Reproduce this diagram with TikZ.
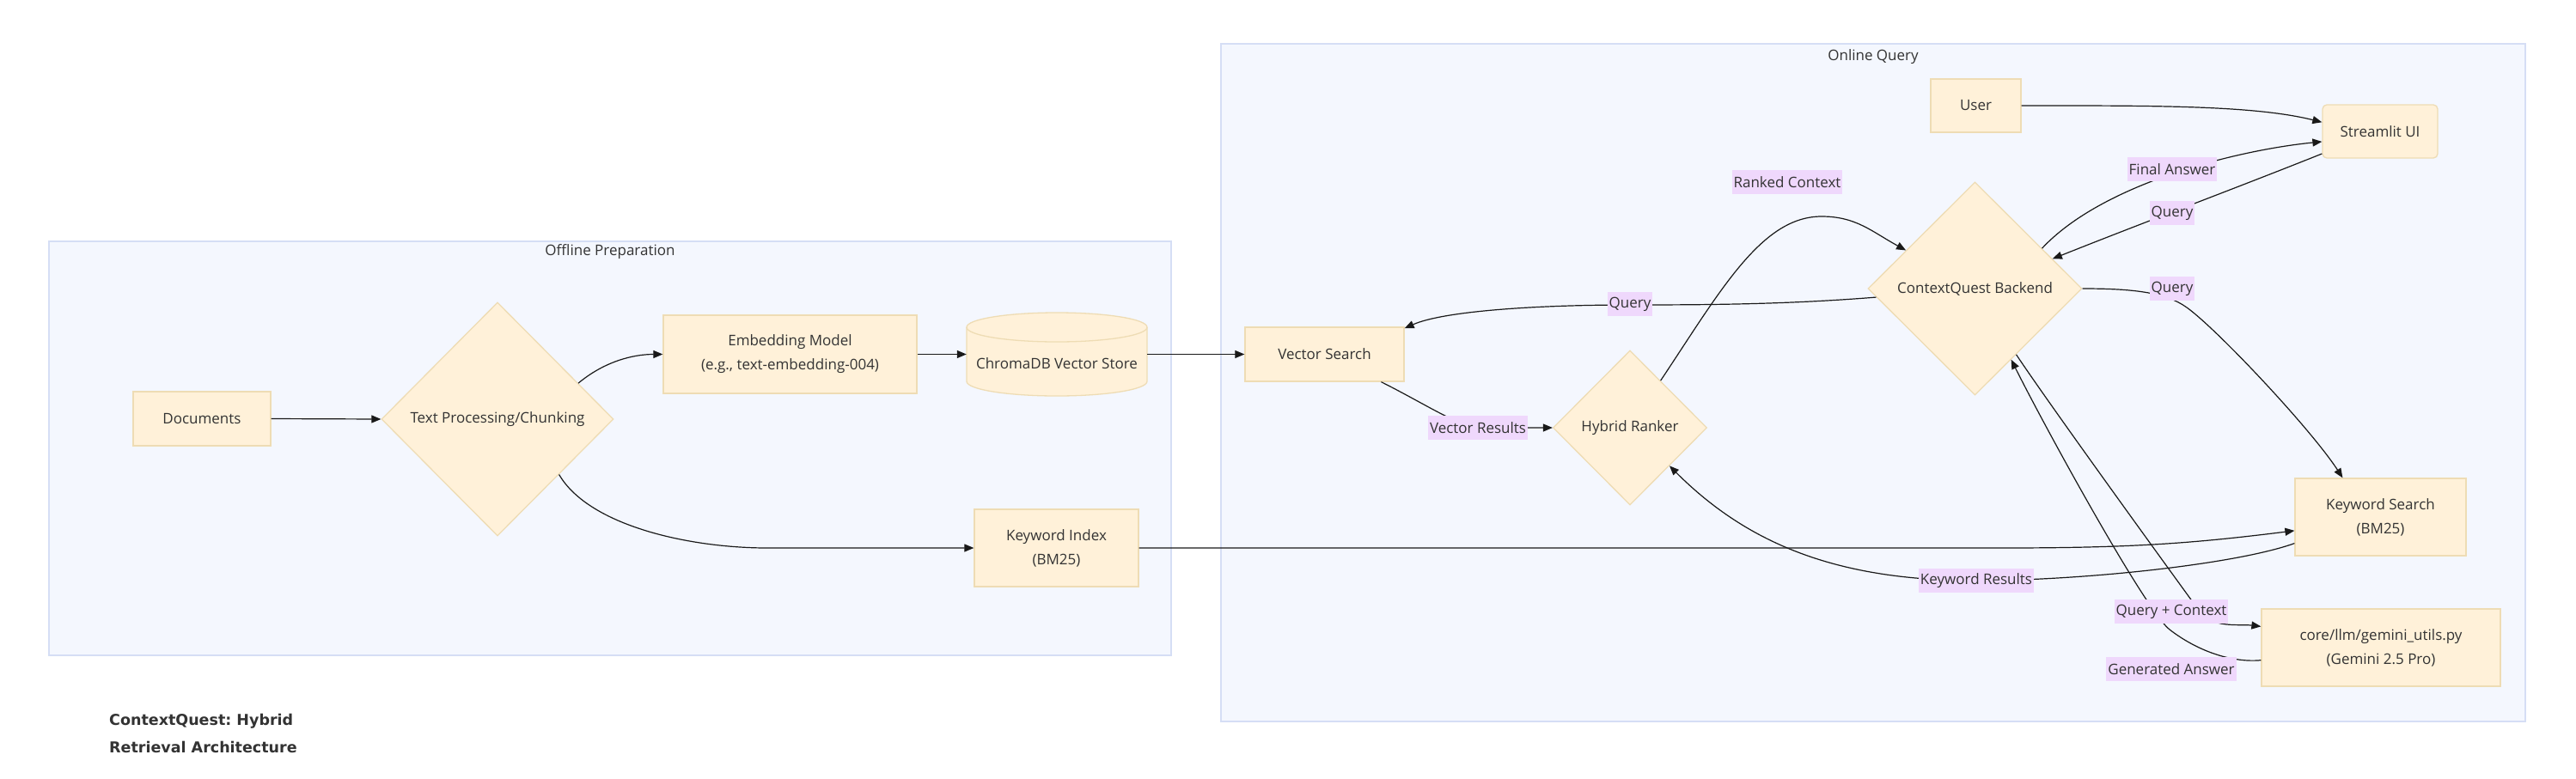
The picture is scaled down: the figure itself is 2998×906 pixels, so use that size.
\documentclass[tikz,border=0pt]{standalone}
\usepackage{fontspec}
\setmainfont{Open Sans}
\newfontfamily\titlefont{DejaVu Sans}
\usetikzlibrary{shapes.geometric,arrows.meta}
\frenchspacing
\definecolor{nodefill}{HTML}{FFF1D9}
\definecolor{nodeline}{HTML}{EEDCB4}
\definecolor{clfill}{HTML}{F4F7FE}
\definecolor{clline}{HTML}{D5DEF5}
\definecolor{lblfill}{HTML}{EFD8FC}
\definecolor{txt}{HTML}{333333}
\begin{document}
\begin{tikzpicture}[x=1pt,y=-1pt,
  nfont/.style={font=\fontsize{17}{28}\selectfont, text=txt},
  cluster/.style={rectangle, draw=clline, fill=clfill, line width=1.5pt, inner sep=0pt},
  cltitle/.style={nfont, inner sep=0pt},
  box/.style={rectangle, draw=nodeline, fill=nodefill, line width=1.3pt, inner sep=0pt, align=center, nfont},
  dia/.style={diamond, draw=nodeline, fill=nodefill, line width=1.3pt, inner sep=0pt, align=center, nfont},
  lbl/.style={fill=lblfill, inner xsep=2pt, inner ysep=0pt, minimum height=28pt, nfont},
  conn/.style={draw=black!90, line width=1.2pt, -{Triangle[length=11pt,width=9pt]}}
]
\fill[white] (0,0) rectangle (2998,906);
\useasboundingbox (0,0) rectangle (2998,906);

% clusters
\node[cluster, minimum width=1306pt, minimum height=482pt] (off) at (710,522) {};
\node[cluster, minimum width=1518pt, minimum height=789pt] (onl) at (2180,445.5) {};
\node[cltitle] (offt) at (710,293) {Offline Preparation};
\node[cltitle] (onlt) at (2180,66) {Online Query};

% cylinder body (ChromaDB)
\filldraw[fill=nodefill, draw=nodeline, line width=1.3pt]
  (1125,381) -- (1125,444) arc[start angle=180, end angle=0, x radius=105, y radius=17]
  -- (1335,381) arc[start angle=0, end angle=-180, x radius=105, y radius=17] -- cycle;
\draw[draw=nodeline, line width=1.3pt] (1125,381) arc[start angle=180, end angle=0, x radius=105, y radius=17];

% nodes
\node[box, minimum width=160pt, minimum height=63pt] (docs) at (235,487.5) {Documents};
\node[dia, minimum width=270pt, minimum height=272pt] (tp) at (579,488) {Text Processing/Chunking};
\node[box, minimum width=295pt, minimum height=91pt] (emb) at (919.5,412.5) {Embedding Model\\(e.g., text-embedding-004)};
\node[nfont, inner sep=0pt, minimum width=210pt, minimum height=97pt] (ch) at (1230,412.5) {\raisebox{-17pt}[0pt][0pt]{ChromaDB Vector Store}};
\node[box, minimum width=191pt, minimum height=90pt] (kwi) at (1229.5,638) {Keyword Index\\(BM25)};

\node[box, minimum width=185pt, minimum height=63pt] (vs) at (1541.5,412.5) {Vector Search};
\node[dia, minimum width=179pt, minimum height=180pt] (hr) at (1897,498) {Hybrid Ranker};
\node[box, minimum width=105pt, minimum height=62pt] (user) at (2299.5,123) {User};
\node[box, rounded corners=5pt, minimum width=134pt, minimum height=62pt] (st) at (2770,153) {Streamlit UI};
\node[dia, minimum width=249pt, minimum height=248pt] (be) at (2298.5,336) {ContextQuest Backend};
\node[box, minimum width=199pt, minimum height=90pt] (ks) at (2770.5,602) {Keyword Search\\(BM25)};
\node[box, minimum width=278pt, minimum height=90pt] (gem) at (2771,754) {core/llm/gemini\_utils.py\\(Gemini 2.5 Pro)};

% helper coordinates
\coordinate (k1) at (893,638);
\coordinate (k2) at (2330,638);
\coordinate (q3) at (1897,355);
\coordinate (q2a) at (2545,358);
\coordinate (vr) at (1720,498);
\coordinate (rc) at (2120,252);
\coordinate (kr) at (2300,676);
\coordinate (qc) at (2560,712);
\coordinate (ga) at (2525,733);

% connectors
\draw[conn] (docs.east) -- (tp.west);
\draw[conn] (tp.24) .. controls +(30,-25) and +(-35,0) .. (emb.west);
\draw[conn] (emb.east) -- (ch.west);
\draw[conn] (ch.east) -- (vs.west);
\draw[conn] (tp.-42) .. controls +(35,60) and +(-90,0) .. (k1) -- (kwi.west);
\draw[conn] (kwi.east) -- (k2) .. controls +(150,0) and +(-120,15) .. (ks.189);
\draw[conn] (user.east) .. controls +(150,0) and +(-80,-20) .. (st.171);
\draw[conn] (st.201) .. controls +(-100,40) and +(100,-40) .. (be.21);
\draw[conn] (be.31) .. controls +(70,-75) and +(-100,10) .. (st.190);
\draw[conn] (be.185) .. controls +(-100,8) and +(100,0) .. (q3) .. controls +(-110,0) and +(45,-20) .. (vs.18);
\draw[conn] (be.east) .. controls +(57,0) and +(-25,-18) .. (q2a) .. controls +(35,25) and +(-37,-57) .. (ks.134);
\draw[conn] (vs.-26) .. controls +(50,25) and +(-25,-3) .. (vr) -- (hr.west);
\draw[conn] (hr.57) .. controls +(70,-105) and +(-70,0) .. (rc) .. controls +(40,0) and +(-40,-22) .. (be.151);
\draw[conn] (ks.197) .. controls +(-70,25) and +(120,0) .. (kr) .. controls +(-160,0) and +(92,92) .. (hr.-44);
\draw[conn] (be.-58) .. controls +(40,60) and +(-40,-55) .. (qc) .. controls +(15,20) and +(-25,-3) .. (gem.170);
\draw[conn] (gem.186) .. controls +(-31,3) and +(35,27) .. (ga) .. controls +(-28,-22) and +(40,80) .. (be.-63);

% edge labels
\node[lbl] (lrank) at (2080,212) {Ranked Context};
\node[lbl] (lfinal) at (2528,197) {Final Answer};
\node[lbl] (lq1) at (2528,248) {Query};
\node[lbl] (lq2) at (2528,336) {Query};
\node[lbl] (lq3) at (1897,354) {Query};
\node[lbl] (lvr) at (1720,498) {Vector Results};
\node[lbl] (lkr) at (2300,676) {Keyword Results};
\node[lbl] (lqc) at (2527,712) {Query + Context};
\node[lbl] (lga) at (2527,779) {Generated Answer};

% title
\node[anchor=west, align=left, inner sep=0pt, text=txt, font=\titlefont\bfseries\fontsize{17.5}{32}\selectfont] (title) at (127,854) {ContextQuest: Hybrid\\Retrieval Architecture};
\end{tikzpicture}
\end{document}
